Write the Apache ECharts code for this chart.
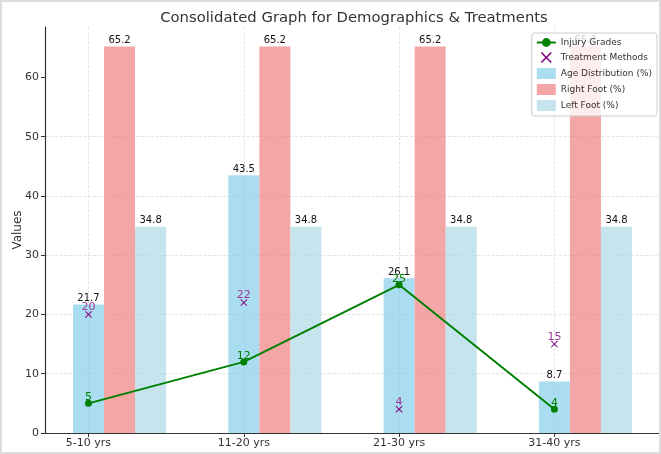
<!DOCTYPE html>
<html>
<head>
<meta charset="utf-8">
<script src="https://cdn.jsdelivr.net/npm/echarts@6/dist/echarts.min.js"></script>
<style>
  html, body { margin: 0; padding: 0; background: #fff; }
  #chart { width: 661px; height: 454px; box-sizing: border-box; border: 2px solid #ddd; }
</style>
</head>
<body>
<div id="chart"></div>
<script>
const categories = ['5-10 yrs', '11-20 yrs', '21-30 yrs', '31-40 yrs'];
const ageDistribution = [21.7, 43.5, 26.1, 8.7];
const rightFoot = [65.2, 65.2, 65.2, 65.2];
const leftFoot = [34.8, 34.8, 34.8, 34.8];
const injuryGrades = [5, 12, 25, 4];
const treatmentMethods = [20, 22, 4, 15];
const yTicks = [0, 10, 20, 30, 40, 50, 60];

const barOffset = 0.2;
const xMark = 'path://M0,1L1,0L5,4L9,0L10,1L6,5L10,9L9,10L5,6L1,10L0,9L4,5Z';

const chart = echarts.init(document.getElementById('chart'));

const barLabel = {
    show: true,
    position: 'top',
    distance: 1,
    color: '#111',
    fontSize: 10,
    fontFamily: 'DejaVu Sans',
    formatter: p => p.value[1]
};

function barSeries(name, values, shift, color) {
    return {
        name: name,
        type: 'bar',
        barWidth: 31,
        barGap: '-100%',
        itemStyle: {color: color},
        label: barLabel,
        data: values.map((v, i) => [i + shift, v]),
        z: 2
    };
}

const option = {
    animation: false,
    textStyle: {fontFamily: 'DejaVu Sans'},
    title: {
        text: 'Consolidated Graph for Demographics & Treatments',
        left: 347,
        textAlign: 'center',
        top: 4,
        textStyle: {fontSize: 14.8, fontWeight: 'normal', color: '#333', fontFamily: 'DejaVu Sans'}
    },
    legend: {
        orient: 'vertical',
        right: 2,
        top: 31,
        itemGap: 5,
        itemWidth: 19,
        itemHeight: 11,
        padding: [5, 5, 5, 4],
        backgroundColor: 'rgba(255,255,255,0.8)',
        borderColor: '#ccc',
        borderWidth: 1,
        borderRadius: 3,
        textStyle: {fontSize: 9, color: '#333', fontFamily: 'DejaVu Sans'},
        data: [
            {name: 'Injury Grades'},
            {name: 'Treatment Methods', icon: xMark, itemStyle: {color: 'purple'}},
            {name: 'Age Distribution (%)', icon: 'rect'},
            {name: 'Right Foot (%)', icon: 'rect'},
            {name: 'Left Foot (%)', icon: 'rect'}
        ]
    },
    grid: {left: 43, right: -1, top: 25, bottom: 19, outerBoundsMode: 'none'},
    xAxis: {
        type: 'value',
        min: -0.28,
        max: 3.68,
        splitLine: {show: false},
        axisLine: {show: true, onZero: false, lineStyle: {color: '#333', width: 1.2}},
        axisTick: {show: true, length: 4, customValues: [0, 1, 2, 3], lineStyle: {color: '#333'}},
        axisLabel: {
            customValues: [0, 1, 2, 3],
            formatter: v => categories[Math.round(v)] || '',
            fontSize: 11,
            color: '#333',
            margin: 5
        }
    },
    yAxis: {
        type: 'value',
        min: 0,
        max: 68.5,
        interval: 10,
        name: 'Values',
        nameLocation: 'middle',
        nameGap: 21,
        nameMoveOverlap: false,
        nameTextStyle: {fontSize: 12, color: '#333'},
        axisLine: {show: true, onZero: false, lineStyle: {color: '#333', width: 1.2}},
        axisTick: {show: true, length: 4, customValues: yTicks, lineStyle: {color: '#333'}},
        axisLabel: {customValues: yTicks, fontSize: 11, color: '#333', margin: 6},
        splitLine: {show: true, showMaxLine: false, lineStyle: {color: '#ddd', type: 'dashed', width: 0.8}}
    },
    series: [
        barSeries('Age Distribution (%)', ageDistribution, 0, 'rgba(135,206,235,0.7)'),
        barSeries('Right Foot (%)', rightFoot, barOffset, 'rgba(240,128,128,0.7)'),
        barSeries('Left Foot (%)', leftFoot, barOffset * 2, 'rgba(173,216,230,0.7)'),
        {
            name: 'Injury Grades',
            type: 'line',
            data: injuryGrades.map((v, i) => [i, v]),
            symbol: 'circle',
            symbolSize: 7,
            itemStyle: {color: 'green'},
            lineStyle: {color: 'green', width: 2},
            label: {show: true, position: 'top', distance: -3, color: 'green', fontSize: 11, formatter: p => p.value[1]},
            z: 5,
            markLine: {
                silent: true,
                symbol: 'none',
                label: {show: false},
                lineStyle: {color: '#ddd', type: 'dashed', width: 0.8},
                data: categories.map((c, i) => ({xAxis: i})),
                z: 1
            }
        },
        {
            name: 'Treatment Methods',
            type: 'scatter',
            data: treatmentMethods.map((v, i) => [i, v]),
            symbol: xMark,
            symbolSize: 7,
            itemStyle: {color: 'purple', opacity: 1},
            label: {show: true, position: 'top', distance: -2, color: '#9a3a9a', fontSize: 11, formatter: p => p.value[1]},
            z: 6
        }
    ]
};

chart.setOption(option);
</script>
</body>
</html>
